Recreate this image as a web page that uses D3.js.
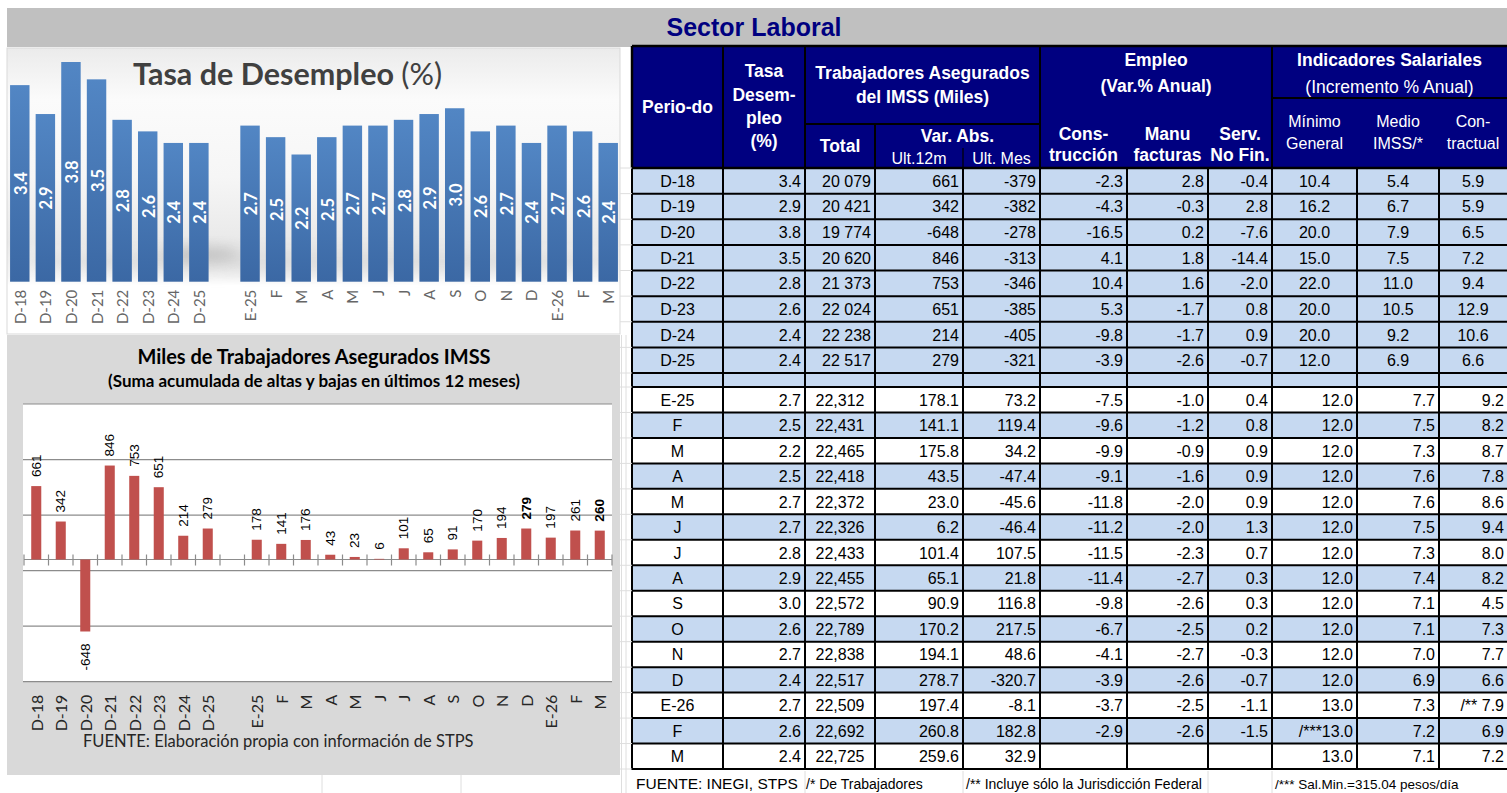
<!DOCTYPE html>
<html>
<head>
<meta charset="utf-8">
<script src="https://cdn.jsdelivr.net/npm/d3@7"></script>
<style>
  body { margin: 0; background: #fff; }
  svg { display: block; }
</style>
</head>
<body>
<svg id="chart" width="1507" height="793"></svg>
<script>
// ---- data ----
const periods = ["D-18", "D-19", "D-20", "D-21", "D-22", "D-23", "D-24", "D-25",
  "E-25", "F", "M", "A", "M", "J", "J", "A", "S", "O", "N", "D", "E-26", "F", "M"];
const tasaDesempleo = [3.4, 2.9, 3.8, 3.5, 2.8, 2.6, 2.4, 2.4,
  2.7, 2.5, 2.2, 2.5, 2.7, 2.7, 2.8, 2.9, 3.0, 2.6, 2.7, 2.4, 2.7, 2.6, 2.4];
const imssChart = [661, 342, -648, 846, 753, 651, 214, 279,
  178, 141, 176, 43, 23, 6, 101, 65, 91, 170, 194, 279, 197, 261, 260];
const imssBold = [19, 22]; // labels drawn bold
const totalImss = [20079, 20421, 19774, 20620, 21373, 22024, 22238, 22517,
  22312, 22431, 22465, 22418, 22372, 22326, 22433, 22455, 22572, 22789, 22838, 22517, 22509, 22692, 22725];
const var12m = [661, 342, -648, 846, 753, 651, 214, 279,
  178.1, 141.1, 175.8, 43.5, 23.0, 6.2, 101.4, 65.1, 90.9, 170.2, 194.1, 278.7, 197.4, 260.8, 259.6];
const varMes = [-379, -382, -278, -313, -346, -385, -405, -321,
  73.2, 119.4, 34.2, -47.4, -45.6, -46.4, 107.5, 21.8, 116.8, 217.5, 48.6, -320.7, -8.1, 182.8, 32.9];
const construccion = [-2.3, -4.3, -16.5, 4.1, 10.4, 5.3, -9.8, -3.9,
  -7.5, -9.6, -9.9, -9.1, -11.8, -11.2, -11.5, -11.4, -9.8, -6.7, -4.1, -3.9, -3.7, -2.9, null];
const manufacturas = [2.8, -0.3, 0.2, 1.8, 1.6, -1.7, -1.7, -2.6,
  -1.0, -1.2, -0.9, -1.6, -2.0, -2.0, -2.3, -2.7, -2.6, -2.5, -2.7, -2.6, -2.5, -2.6, null];
const servNoFin = [-0.4, 2.8, -7.6, -14.4, -2.0, 0.8, 0.9, -0.7,
  0.4, 0.8, 0.9, 0.9, 0.9, 1.3, 0.7, 0.3, 0.3, 0.2, -0.3, -0.7, -1.1, -1.5, null];
const salMinimo = [10.4, 16.2, 20.0, 15.0, 22.0, 20.0, 20.0, 12.0,
  12.0, 12.0, 12.0, 12.0, 12.0, 12.0, 12.0, 12.0, 12.0, 12.0, 12.0, 12.0, 13.0, 13.0, 13.0];
const salMedio = [5.4, 6.7, 7.9, 7.5, 11.0, 10.5, 9.2, 6.9,
  7.7, 7.5, 7.3, 7.6, 7.6, 7.5, 7.3, 7.4, 7.1, 7.1, 7.0, 6.9, 7.3, 7.2, 7.1];
const salContractual = [5.9, 5.9, 6.5, 7.2, 9.4, 12.9, 10.6, 6.6,
  9.2, 8.2, 8.7, 7.8, 8.6, 9.4, 8.0, 8.2, 4.5, 7.3, 7.7, 6.6, 7.9, 6.9, 7.2];
const notes = { 20: { col: 10, prefix: "/** " }, 21: { col: 8, prefix: "/***" } };
const nAnnual = 8;

const ARIAL = "'Liberation Sans', Arial, sans-serif";
const CAL = "Lato, 'Open Sans', sans-serif";

const svg = d3.select("#chart");
const defs = svg.append("defs");

// ---- top band ----
svg.append("rect").attr("x", 7).attr("y", 8).attr("width", 1500).attr("height", 39).attr("fill", "#c0c0c0");
svg.append("text").attr("x", 754).attr("y", 35.5).attr("text-anchor", "middle")
  .attr("font-family", ARIAL).attr("font-weight", "bold").attr("font-size", 25)
  .attr("fill", "#000080").text("Sector Laboral");

// slot index: one empty slot between annual and monthly
const slotOf = i => i < nAnnual ? i : i + 1;
const slots = d3.range(periods.length + 1);

// ---- top-left chart: Tasa de Desempleo ----
const bg = defs.append("linearGradient").attr("id", "topBg").attr("x1", 0).attr("y1", 0).attr("x2", 0).attr("y2", 1);
[[0, "#ebebeb"], [0.18, "#fbfbfb"], [0.45, "#f6f6f6"], [0.68, "#e9e9e9"], [0.8, "#f6f6f6"], [0.83, "#ffffff"], [1, "#ffffff"]]
  .forEach(([o, c]) => bg.append("stop").attr("offset", o).attr("stop-color", c));
const barGrad = defs.append("linearGradient").attr("id", "barGrad").attr("x1", 0).attr("y1", 0).attr("x2", 0).attr("y2", 1);
barGrad.append("stop").attr("offset", 0).attr("stop-color", "#5286c4");
barGrad.append("stop").attr("offset", 1).attr("stop-color", "#3b68a4");
defs.append("filter").attr("id", "blur").attr("x", -0.2).attr("y", -1).attr("width", 1.4).attr("height", 3)
  .append("feGaussianBlur").attr("stdDeviation", 7);
defs.append("clipPath").attr("id", "topClip").append("rect")
  .attr("x", 7).attr("y", 48).attr("width", 613).attr("height", 286);

const topG = svg.append("g");
topG.append("rect").attr("x", 7).attr("y", 48).attr("width", 613).attr("height", 286)
  .attr("fill", "url(#topBg)").attr("stroke", "#d9d9d9");
// soft reflection behind the bars
const refl = topG.append("g").attr("clip-path", "url(#topClip)");
refl.append("ellipse").attr("cx", 320).attr("cy", 262).attr("rx", 300).attr("ry", 12)
  .attr("fill", "#bdbdbd").attr("opacity", 0.35).attr("filter", "url(#blur)");
refl.append("ellipse").attr("cx", 200).attr("cy", 254).attr("rx", 40).attr("ry", 6)
  .attr("fill", "#8c8c8c").attr("opacity", 0.45).attr("filter", "url(#blur)");

topG.append("text").attr("x", 133).attr("y", 85).attr("font-family", CAL).attr("font-size", 30.5).attr("fill", "#404040")
  .call(t => {
    t.append("tspan").attr("font-weight", "bold").text("Tasa de Desempleo ");
    t.append("tspan").text("(%)");
  });

const xTop = d3.scaleBand().domain(slots).range([7, 621]).paddingInner(0.24).paddingOuter(0.12);
const yTop = d3.scaleLinear().domain([0, 3.8]).range([281.7, 62]);

topG.append("g").selectAll("rect").data(tasaDesempleo).join("rect")
  .attr("x", (d, i) => xTop(slotOf(i)))
  .attr("y", d => yTop(d))
  .attr("width", xTop.bandwidth())
  .attr("height", d => yTop(0) - yTop(d))
  .attr("fill", "url(#barGrad)");

topG.append("g").selectAll("text").data(tasaDesempleo).join("text")
  .attr("transform", (d, i) => `translate(${xTop(slotOf(i)) + xTop.bandwidth() / 2 + 1},${(yTop(d) + yTop(0)) / 2}) rotate(-90)`)
  .attr("text-anchor", "middle").attr("dominant-baseline", "central")
  .attr("font-family", CAL).attr("font-weight", "bold").attr("font-size", 16.5).attr("fill", "#fff")
  .text(d => d.toFixed(1));

topG.append("g").selectAll("text").data(periods).join("text")
  .attr("transform", (d, i) => `translate(${xTop(slotOf(i)) + xTop.bandwidth() / 2},${yTop(0) + 8}) rotate(-90)`)
  .attr("text-anchor", "end").attr("dominant-baseline", "central")
  .attr("font-family", CAL).attr("font-size", 15).attr("fill", "#666")
  .text(d => d);

// ---- bottom-left chart: IMSS ----
const bot = svg.append("g");
bot.append("rect").attr("x", 7).attr("y", 335).attr("width", 613).attr("height", 440).attr("fill", "#d9d9d9");
bot.append("text").attr("x", 314).attr("y", 364).attr("text-anchor", "middle")
  .attr("font-family", CAL).attr("font-weight", "bold").attr("font-size", 20).attr("fill", "#000")
  .text("Miles de Trabajadores Asegurados IMSS");
bot.append("text").attr("x", 314).attr("y", 387).attr("text-anchor", "middle")
  .attr("font-family", CAL).attr("font-weight", "bold").attr("font-size", 17).attr("fill", "#000")
  .text("(Suma acumulada de altas y bajas en últimos 12 meses)");

const xBot = d3.scaleBand().domain(slots).range([24, 612]).paddingInner(0.59).paddingOuter(0.295);
const yBot = d3.scaleLinear().domain([-1100, 1400]).range([681.7, 404]);

bot.append("rect").attr("x", 23).attr("y", yBot(1400)).attr("width", 589).attr("height", yBot(-1100) - yBot(1400)).attr("fill", "#fff");
bot.append("g").selectAll("line").data(d3.range(-1100, 1401, 500)).join("line")
  .attr("x1", 23).attr("x2", 612).attr("y1", d => yBot(d)).attr("y2", d => yBot(d))
  .attr("stroke", "#8c8c8c").attr("stroke-width", 1.2);

const zeroY = yBot(0);
bot.append("line").attr("x1", 24).attr("x2", 612).attr("y1", zeroY).attr("y2", zeroY)
  .attr("stroke", "#8c8c8c").attr("stroke-width", 1.2);
bot.append("g").selectAll("line").data(d3.range(slots.length + 1)).join("line")
  .attr("x1", k => 24 + k * xBot.step()).attr("x2", k => 24 + k * xBot.step())
  .attr("y1", zeroY - 5).attr("y2", zeroY + 6)
  .attr("stroke", "#8c8c8c").attr("stroke-width", 1.2);

bot.append("g").selectAll("rect").data(imssChart).join("rect")
  .attr("x", (d, i) => xBot(slotOf(i)))
  .attr("y", d => yBot(Math.max(0, d)))
  .attr("width", xBot.bandwidth())
  .attr("height", d => Math.abs(yBot(d) - zeroY))
  .attr("fill", "#c0504d");

bot.append("g").selectAll("text").data(imssChart).join("text")
  .attr("transform", (d, i) => {
    const cx = xBot(slotOf(i)) + xBot.bandwidth() / 2;
    const y = d >= 0 ? yBot(d) - 9 : yBot(d) + 12;
    return `translate(${cx},${y}) rotate(-90)`;
  })
  .attr("text-anchor", d => d >= 0 ? "start" : "end").attr("dominant-baseline", "central")
  .attr("font-family", ARIAL).attr("font-size", 13.5).attr("fill", "#000")
  .attr("font-weight", (d, i) => imssBold.includes(i) ? "bold" : "normal")
  .text(d => d);

bot.append("g").selectAll("text").data(periods).join("text")
  .attr("transform", (d, i) => `translate(${xBot(slotOf(i)) + xBot.bandwidth() / 2},${yBot(-1100) + 13}) rotate(-90)`)
  .attr("text-anchor", "end").attr("dominant-baseline", "central")
  .attr("font-family", CAL).attr("font-size", 16).attr("fill", "#262626")
  .text(d => d);

bot.append("text").attr("x", 83).attr("y", 747).attr("font-family", CAL).attr("font-size", 16.5).attr("fill", "#262626")
  .text("FUENTE: Elaboración propia con información de STPS");

// ---- table ----
const colEdges = [632, 723, 805, 875, 963, 1040, 1127, 1208, 1272, 1357, 1439, 1508];
const mid = (a, b) => (colEdges[a] + Math.min(colEdges[b], 1507)) / 2;
const yRowsA = d3.scaleLinear().domain([0, nAnnual]).range([168, 373]);
const yRowsB = d3.scaleLinear().domain([0, periods.length - nAnnual]).range([387, 769]);
const rowTop = i => i < nAnnual ? yRowsA(i) : yRowsB(i - nAnnual);
const rowH = i => i < nAnnual ? yRowsA(1) - yRowsA(0) : yRowsB(1) - yRowsB(0);

const fmtSpace = v => d3.format(",")(v).replace(",", " ");
const fmt1 = v => v == null ? "" : v.toFixed(1);
const columns = [
  { vals: periods, f: d => d, alignA: "middle", alignB: "middle" },
  { vals: tasaDesempleo, f: fmt1, alignA: "end", alignB: "end" },
  { vals: totalImss, f: (v, i) => i < nAnnual ? fmtSpace(v) : d3.format(",")(v), alignA: "end", alignB: "middle" },
  { vals: var12m, f: (v, i) => i < nAnnual ? String(v) : fmt1(v), alignA: "end", alignB: "end" },
  { vals: varMes, f: (v, i) => i < nAnnual ? String(v) : fmt1(v), alignA: "end", alignB: "end" },
  { vals: construccion, f: fmt1, alignA: "end", alignB: "end" },
  { vals: manufacturas, f: fmt1, alignA: "end", alignB: "end" },
  { vals: servNoFin, f: fmt1, alignA: "end", alignB: "end" },
  { vals: salMinimo, f: fmt1, alignA: "middle", alignB: "end" },
  { vals: salMedio, f: fmt1, alignA: "middle", alignB: "end" },
  { vals: salContractual, f: fmt1, alignA: "middle", alignB: "end" }
];

const tbl = svg.append("g");
// row fills
const blueRow = i => i < nAnnual || (i - nAnnual) % 2 === 1;
tbl.append("g").selectAll("rect").data(periods).join("rect")
  .attr("x", colEdges[0]).attr("y", (d, i) => rowTop(i)).attr("width", 1507 - colEdges[0]).attr("height", (d, i) => rowH(i))
  .attr("fill", (d, i) => blueRow(i) ? "#c6d9f1" : "#fff");
tbl.append("rect").attr("x", colEdges[0]).attr("y", yRowsA(nAnnual)).attr("width", 1507 - colEdges[0])
  .attr("height", yRowsB(0) - yRowsA(nAnnual)).attr("fill", "#c6d9f1");

// cell texts
const cells = [];
periods.forEach((p, i) => {
  columns.forEach((c, j) => {
    let txt = c.f(c.vals[i], i);
    if (notes[i] && notes[i].col === j) txt = notes[i].prefix + txt;
    const align = i < nAnnual ? c.alignA : c.alignB;
    const x = align === "middle" ? mid(j, j + 1) : colEdges[j + 1] - 4;
    cells.push({ txt, x, align, y: rowTop(i) + rowH(i) / 2 + 6 });
  });
});
tbl.append("g").selectAll("text").data(cells).join("text")
  .attr("x", d => d.x).attr("y", d => d.y).attr("text-anchor", d => d.align)
  .attr("font-family", ARIAL).attr("font-size", 16).attr("fill", "#000")
  .text(d => d.txt);

// grid lines
const hLines = periods.map((d, i) => rowTop(i)).concat([yRowsA(nAnnual), yRowsB(periods.length - nAnnual)]);
tbl.append("g").selectAll("line").data(hLines).join("line")
  .attr("x1", colEdges[0]).attr("x2", 1507).attr("y1", d => d).attr("y2", d => d)
  .attr("stroke", "#000").attr("stroke-width", 2);
tbl.append("g").selectAll("line").data(colEdges.slice(0, -1)).join("line")
  .attr("x1", d => d).attr("x2", d => d).attr("y1", 168).attr("y2", 770)
  .attr("stroke", "#000").attr("stroke-width", 2);

// header
const hdr = svg.append("g");
hdr.append("rect").attr("x", colEdges[0]).attr("y", 46).attr("width", 1507 - colEdges[0]).attr("height", 122).attr("fill", "#000080");
const hdrLines = [
  [632, 46, 1507, 46, 2.5], [632, 168, 1507, 168, 2.5], [632, 46, 632, 168, 2.5],
  [723, 46, 723, 168, 2], [805, 46, 805, 168, 2], [805, 124, 1040, 124, 2],
  [875, 124, 875, 168, 2], [963, 148, 963, 168, 1.2], [1040, 46, 1040, 168, 2],
  [1272, 46, 1272, 168, 2], [1272, 98, 1507, 98, 2]
];
hdr.append("g").selectAll("line").data(hdrLines).join("line")
  .attr("x1", d => d[0]).attr("y1", d => d[1]).attr("x2", d => d[2]).attr("y2", d => d[3])
  .attr("stroke", "#000").attr("stroke-width", d => d[4]);

const hdrText = [
  { t: ["Perio-do"], x: mid(0, 1), y: [113], b: true },
  { t: ["Tasa", "Desem-", "pleo", "(%)"], x: mid(1, 2), y: [77, 101, 124, 147], b: true },
  { t: ["Trabajadores Asegurados", "del IMSS (Miles)"], x: mid(2, 5), y: [79, 103], b: true },
  { t: ["Total"], x: mid(2, 3), y: [152], b: true },
  { t: ["Var. Abs."], x: mid(3, 5), y: [142], b: true },
  { t: ["Ult.12m"], x: mid(3, 4), y: [164], b: false, s: 16 },
  { t: ["Ult. Mes"], x: mid(4, 5), y: [164], b: false, s: 16 },
  { t: ["Empleo", "(Var.% Anual)"], x: mid(5, 8), y: [66, 92], b: true },
  { t: ["Cons-", "trucción"], x: mid(5, 6), y: [140, 161], b: true },
  { t: ["Manu", "facturas"], x: mid(6, 7), y: [140, 161], b: true },
  { t: ["Serv.", "No Fin."], x: mid(7, 8), y: [140, 161], b: true },
  { t: ["Indicadores Salariales"], x: mid(8, 11), y: [66], b: true },
  { t: ["(Incremento % Anual)"], x: mid(8, 11), y: [93], b: false },
  { t: ["Mínimo", "General"], x: mid(8, 9), y: [127, 149], b: false, s: 16 },
  { t: ["Medio", "IMSS/*"], x: mid(9, 10), y: [127, 149], b: false, s: 16 },
  { t: ["Con-", "tractual"], x: mid(10, 11), y: [127, 149], b: false, s: 16 }
];
hdrText.forEach(h => {
  h.t.forEach((line, k) => {
    hdr.append("text").attr("x", h.x).attr("y", h.y[k]).attr("text-anchor", "middle")
      .attr("font-family", ARIAL).attr("font-size", h.s || 17.5)
      .attr("font-weight", h.b ? "bold" : "normal").attr("fill", "#fff").text(line);
  });
});

// ---- footer + faint sheet gridlines ----
const grid = svg.append("g").attr("stroke", "#dedede").attr("stroke-width", 1);
[621.5, 626].forEach(x => grid.append("line").attr("x1", x).attr("x2", x).attr("y1", 335).attr("y2", 793));
hLines.forEach(y => grid.append("line").attr("x1", 620).attr("x2", 632).attr("y1", y).attr("y2", y));
[322, 461].forEach(x => grid.append("line").attr("x1", x).attr("x2", x).attr("y1", 775).attr("y2", 793));
[805, 963, 1208, 1272].forEach(x => grid.append("line").attr("x1", x).attr("x2", x).attr("y1", 771).attr("y2", 793));

defs.append("clipPath").attr("id", "fclip").append("rect").attr("x", 632).attr("y", 770).attr("width", 172).attr("height", 23);
const foot = svg.append("g").attr("font-family", ARIAL).attr("fill", "#000");
foot.append("text").attr("x", 636).attr("y", 789).attr("font-size", 15.5).attr("clip-path", "url(#fclip)").text("FUENTE: INEGI, STPS");
foot.append("text").attr("x", 806).attr("y", 789).attr("font-size", 14).text("/* De Trabajadores");
foot.append("text").attr("x", 966).attr("y", 789).attr("font-size", 14).text("/** Incluye sólo la Jurisdicción Federal");
foot.append("text").attr("x", 1275).attr("y", 789).attr("font-size", 13.5).text("/*** Sal.Min.=315.04 pesos/día");
</script>
</body>
</html>
